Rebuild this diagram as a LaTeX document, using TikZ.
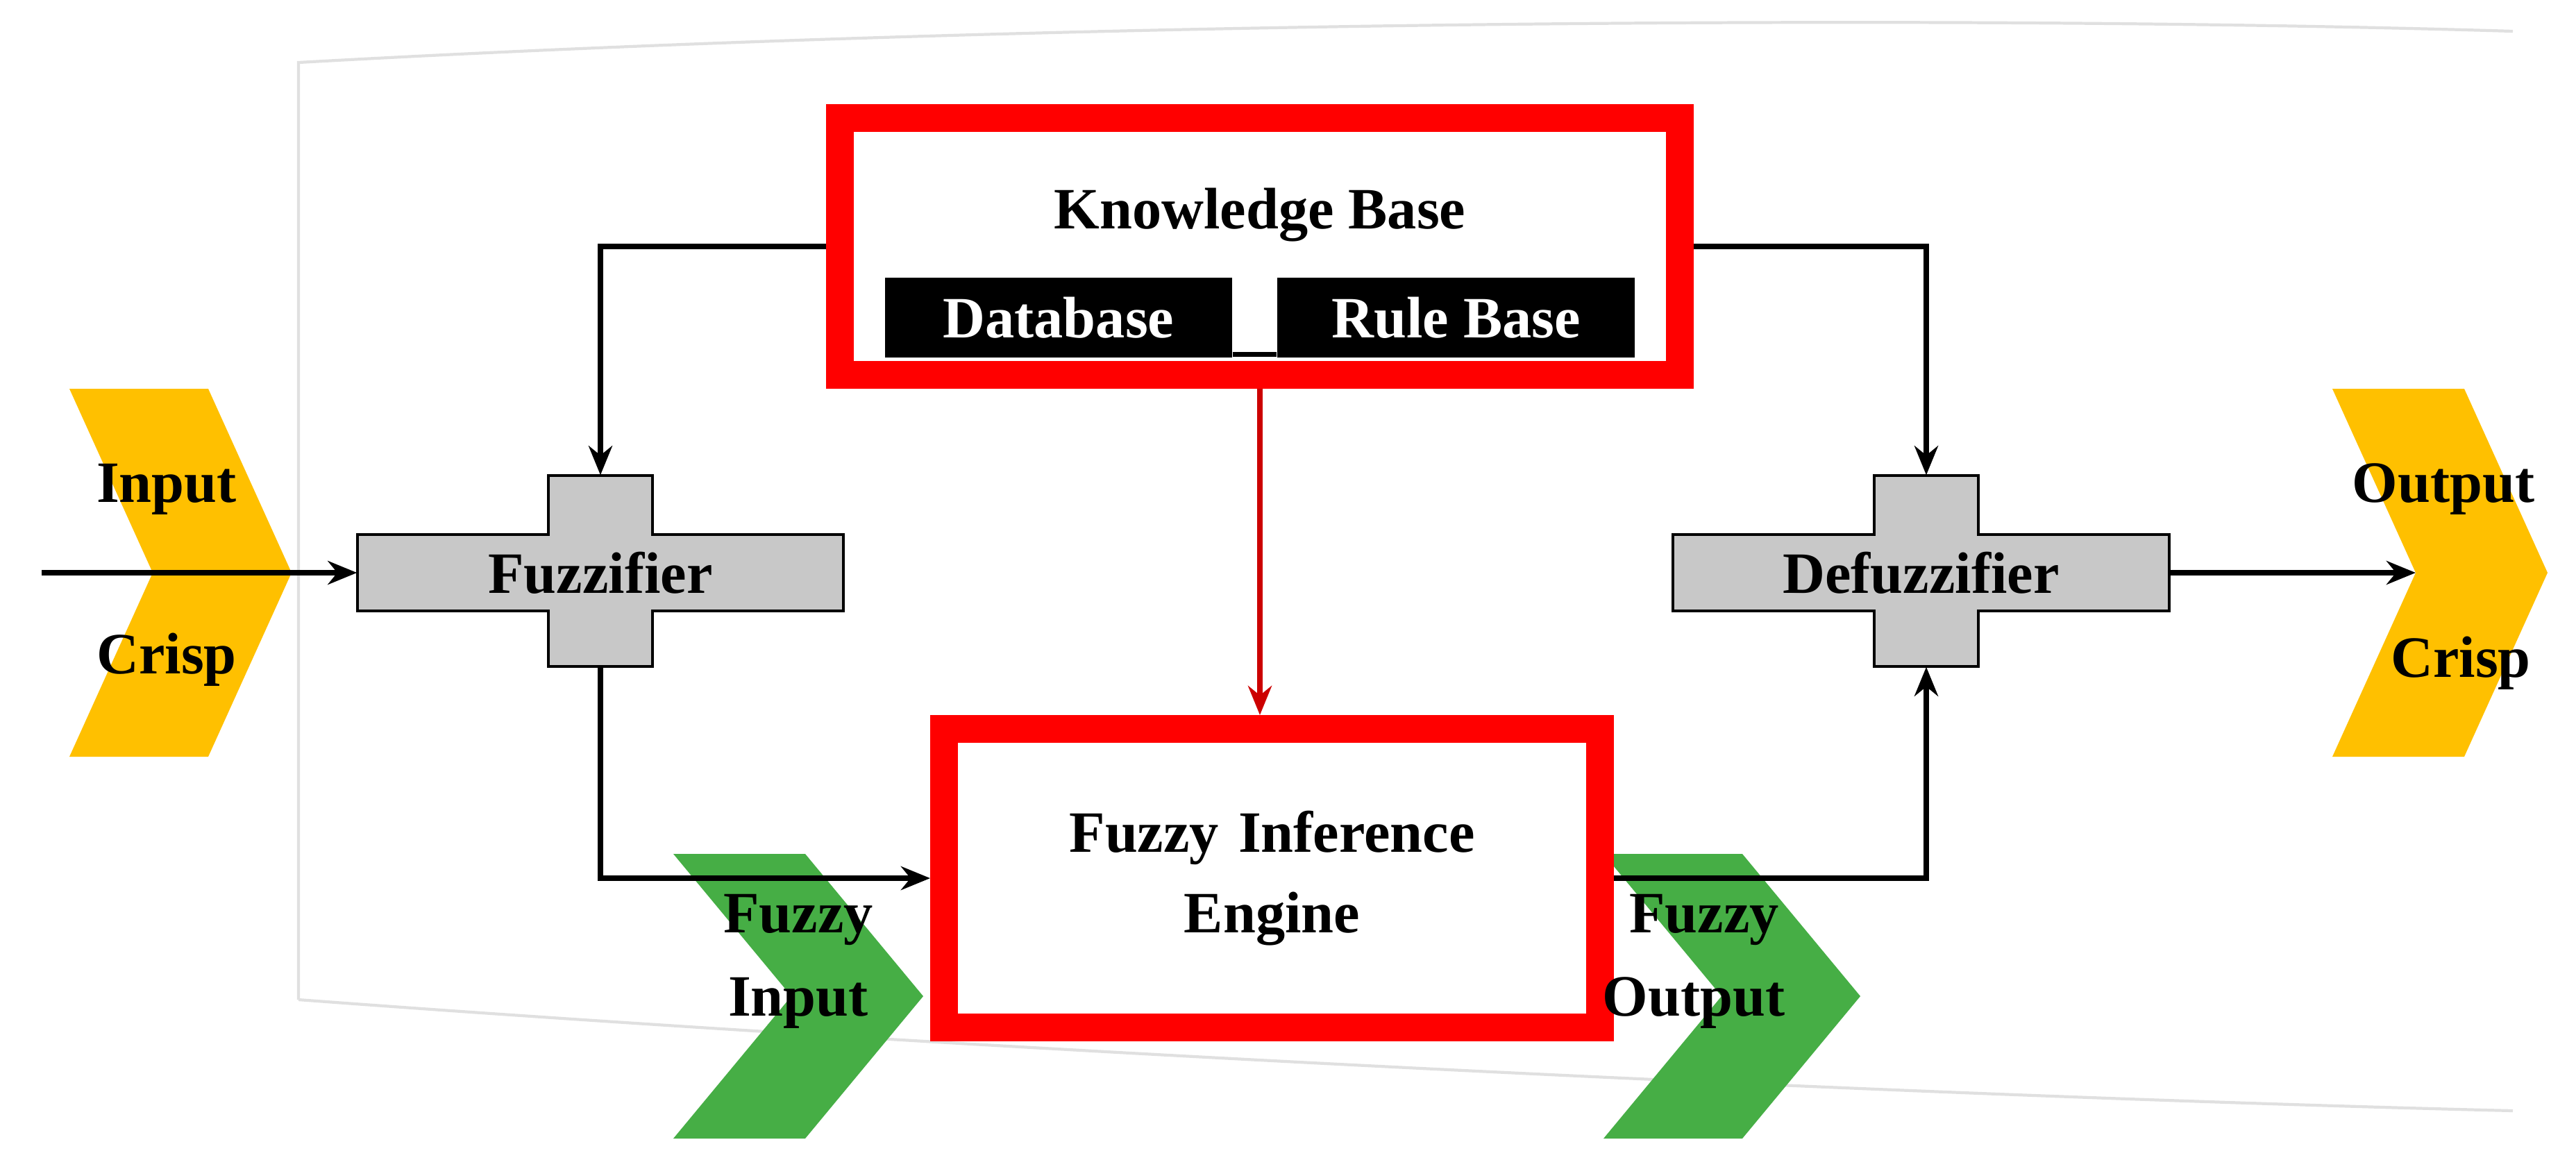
\documentclass[tikz,border=0pt]{standalone}
\usepackage{fontspec}
\setmainfont{Liberation Serif}
\usetikzlibrary{arrows,arrows.meta,shapes,positioning}
\definecolor{chevyel}{HTML}{FFC000}
\definecolor{chevgrn}{HTML}{46AE45}
\definecolor{crossgray}{HTML}{C8C8C8}
\tikzstyle{redbox} = [rectangle, draw=red, line width=0.4cm, fill=white, text centered, font=\bfseries\fontsize{24}{30}\selectfont]
\tikzstyle{blackbox} = [rectangle, fill=black, text=white, minimum height=1.15cm, font=\bfseries\fontsize{24}{30}\selectfont]
\tikzstyle{label} = [font=\bfseries\fontsize{24}{30}\selectfont]
\tikzstyle{cross} = [draw=black, line width=1.2pt, fill=crossgray]
\tikzstyle{arrow} = [line width=2.4pt,->,>={Stealth[length=0.42cm,width=0.34cm]}]
\begin{document}
\begin{tikzpicture}
\useasboundingbox (0,0) rectangle (37.11,-16.93);

% faint background
\draw [black!12, line width=1.2pt] (4.3,-14.4) -- (4.3,-0.9) .. controls (15,-0.3) and (28,-0.2) .. (36.2,-0.45);
\draw [black!12, line width=1.2pt] (4.3,-14.4) .. controls (15,-15.2) and (28,-15.8) .. (36.2,-16.0);

% chevrons
\fill [chevyel] (1.0,-5.6) -- (3.0,-5.6) -- (4.2,-8.25) -- (3.0,-10.9) -- (1.0,-10.9) -- (2.2,-8.25) -- cycle;
\fill [chevyel] (33.6,-5.6) -- (35.5,-5.6) -- (36.7,-8.25) -- (35.5,-10.9) -- (33.6,-10.9) -- (34.8,-8.25) -- cycle;
\fill [chevgrn] (9.7,-12.3) -- (11.6,-12.3) -- (13.3,-14.35) -- (11.6,-16.4) -- (9.7,-16.4) -- (11.4,-14.35) -- cycle;
\fill [chevgrn] (23.1,-12.3) -- (25.1,-12.3) -- (26.8,-14.35) -- (25.1,-16.4) -- (23.1,-16.4) -- (24.8,-14.35) -- cycle;

% crosses
\draw [cross] (5.15,-7.7) -- (7.9,-7.7) -- (7.9,-6.85) -- (9.4,-6.85) -- (9.4,-7.7) -- (12.15,-7.7) -- (12.15,-8.8) -- (9.4,-8.8) -- (9.4,-9.6) -- (7.9,-9.6) -- (7.9,-8.8) -- (5.15,-8.8) -- cycle;
\draw [cross] (24.1,-7.7) -- (27.0,-7.7) -- (27.0,-6.85) -- (28.5,-6.85) -- (28.5,-7.7) -- (31.25,-7.7) -- (31.25,-8.8) -- (28.5,-8.8) -- (28.5,-9.6) -- (27.0,-9.6) -- (27.0,-8.8) -- (24.1,-8.8) -- cycle;
\node (fuzz) [label, minimum width=7cm, minimum height=1.1cm] at (8.65,-8.25) {Fuzzifier};
\node (fuzzv) [minimum width=1.5cm, minimum height=2.75cm] at (8.65,-8.225) {};
\node (defuzz) [label, minimum width=7.15cm, minimum height=1.1cm] at (27.675,-8.25) {Defuzzifier};
\node (defuzzv) [minimum width=1.5cm, minimum height=2.75cm] at (27.75,-8.225) {};

% boxes
\node (kb) [redbox, minimum width=12.1cm, minimum height=3.7cm] at (18.15,-3.55) {};
\node (kbtext) [label] at (18.15,-3.1) {Knowledge Base};
\node (db) [blackbox, minimum width=5.0cm] at (15.25,-4.575) {Database};
\node (rb) [blackbox, minimum width=5.15cm] at (20.975,-4.575) {Rule Base};
\draw [line width=2pt] (db.south east) ++(0,0.05) -- ([yshift=0.05cm]rb.south west);
\node (fie) [redbox, minimum width=9.45cm, minimum height=4.3cm, text width=8cm] at (18.325,-12.65) {Fuzzy Inference\\[0.1cm]Engine};

% texts
\node (in1) [label] at (2.4,-7.05) {Input};
\node (in2) [label] at (2.4,-9.5) {Crisp};
\node (out1) [label] at (35.2,-7.05) {Output};
\node (out2) [label] at (35.45,-9.55) {Crisp};
\node (fin1) [label] at (11.5,-13.25) {Fuzzy};
\node (fin2) [label] at (11.5,-14.45) {Input};
\node (fout1) [label] at (24.55,-13.25) {Fuzzy};
\node (fout2) [label] at (24.4,-14.45) {Output};

% connectors
\coordinate (start) at (0.6,-8.25);
\coordinate (end) at (34.8,-8.25);
\draw [arrow] (start) -- (fuzz.west);
\draw [arrow] (defuzz.east) -- (end);
\draw [arrow] (kb.west) -| (fuzzv.north);
\draw [arrow] (kb.east) -| (defuzzv.north);
\draw [arrow, red!80!black] (kb.south) -- (kb.south |- fie.north);
\draw [arrow] (fuzzv.south) |- (fie.west);
\draw [arrow] (fie.east) -| (defuzzv.south);
\end{tikzpicture}
\end{document}
